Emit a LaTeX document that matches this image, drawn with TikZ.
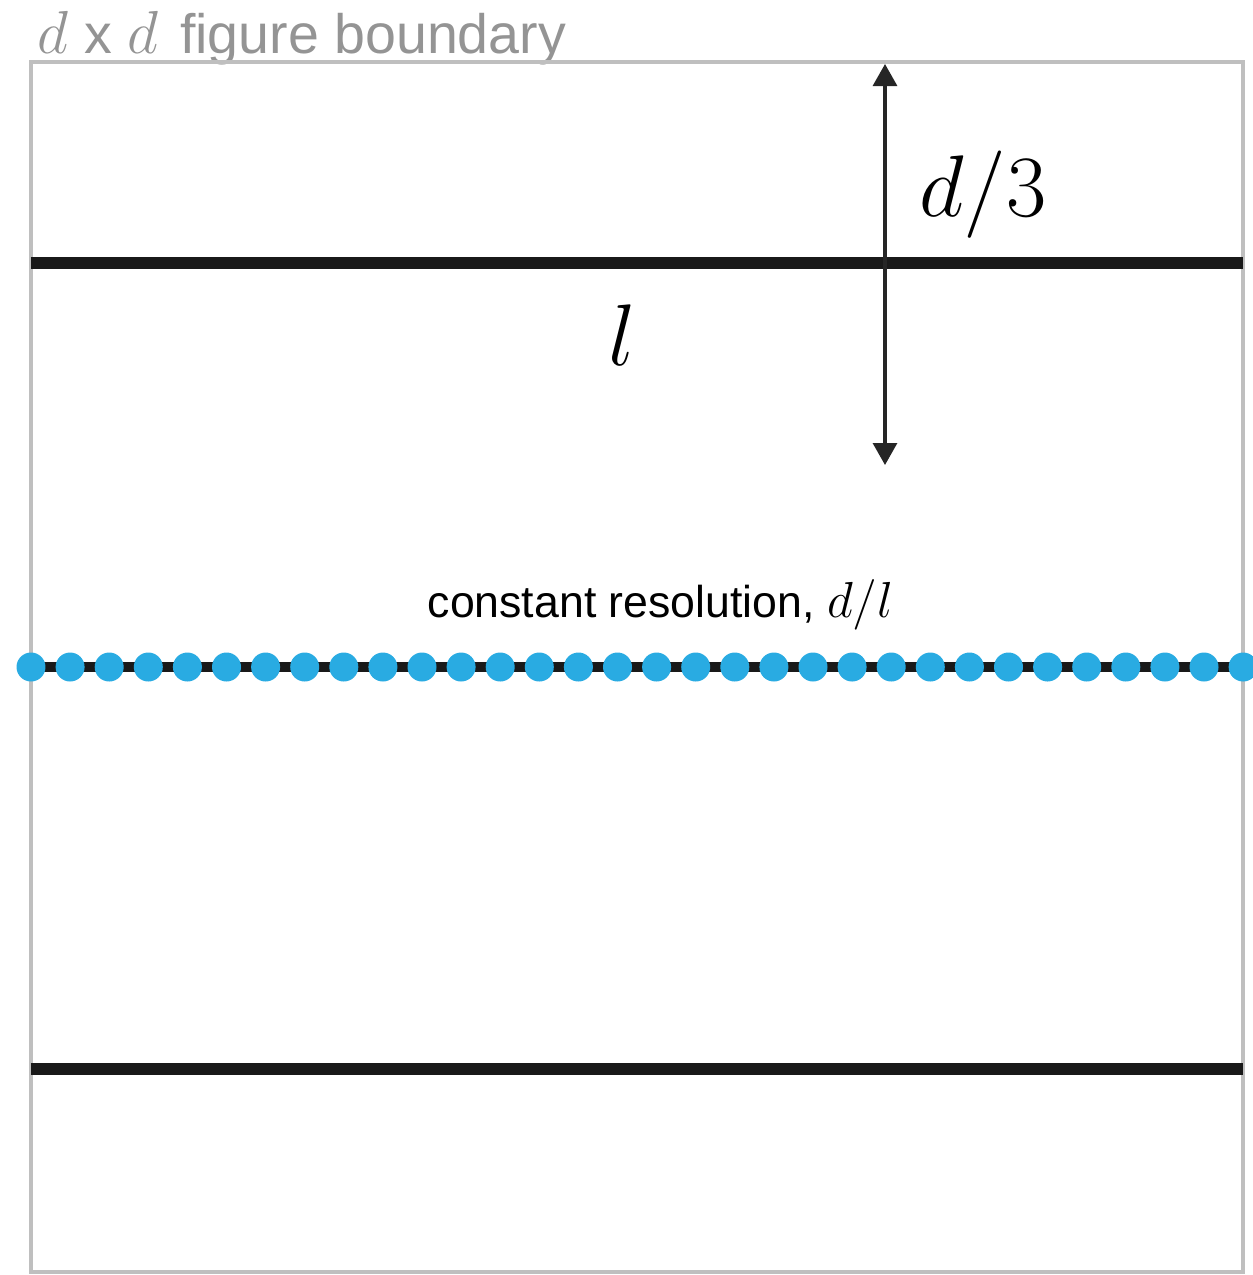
\documentclass[tikz,border=0pt]{standalone}
\usepackage[no-math]{fontspec}
\setmainfont{Liberation Sans}
\usepackage{tikz}
\usepackage{xcolor}
\usetikzlibrary{arrows.meta}
\definecolor{dotblue}{RGB}{41,171,226}
\newcommand{\bigd}{{\fontsize{19}{19}\selectfont$d$}}
\tikzstyle{boundary} = [draw=black!25, line width=0.9pt]
\tikzstyle{bar}      = [draw=black!90, line width=3.4pt]
\tikzstyle{dot}      = [circle, fill=dotblue, inner sep=0pt, minimum size=0.29cm]
\tikzstyle{arrow}    = [{Triangle[length=2.2mm,width=2.4mm]}-{Triangle[length=2.2mm,width=2.4mm]}, line width=0.9pt, black!85]
\tikzstyle{biglabel} = [inner sep=0pt, font=\fontsize{24}{28}\selectfont]

\begin{document}
\begin{tikzpicture}
    \useasboundingbox (0,0) rectangle (12.53,-12.75);
    \node (title) [anchor=base west, inner sep=0pt, text=black!42, font=\fontsize{15.8}{18}\selectfont]
        at (0.37,-0.53) {\bigd{} x \bigd\hspace{0.22cm}figure boundary};

    % figure boundary and the three lines
    \draw[boundary] (0.31,-0.62) rectangle (12.43,-12.72);
    \draw[bar] (0.31,-2.63) -- (12.43,-2.63);
    \draw[bar] (0.31,-10.69) -- (12.43,-10.69);
    \draw[bar, line width=3.1pt] (0.31,-6.67) -- (12.43,-6.67);
    \foreach \i in {0,...,31}
        \node (dot\i) [dot] at ({0.31+\i*0.391},-6.67) {};

    \node (res) [anchor=base west, inner sep=0pt, font=\fontsize{12.7}{15}\selectfont]
        at (4.27,-6.17) {constant resolution, {\fontsize{14.5}{15}\selectfont$d/l$}};

    % d/3 arrow
    \coordinate (top) at (8.85,-0.64);
    \coordinate (bot) at (8.85,-4.65);
    \draw[arrow] (top) -- (bot);
    \node (third) [biglabel] at (9.83,-1.95) {$d/3$};
    \node (len) [biglabel] at (6.22,-3.35) {$l$};
\end{tikzpicture}
\end{document}
